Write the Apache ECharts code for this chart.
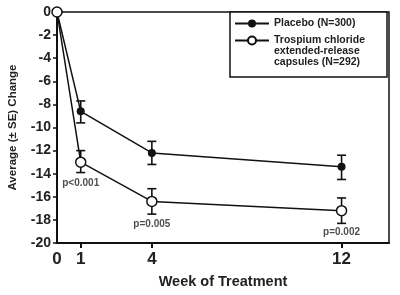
<!DOCTYPE html>
<html>
<head>
<meta charset="utf-8">
<script src="https://cdn.jsdelivr.net/npm/echarts@6/dist/echarts.min.js"></script>
<style>
  html, body { margin: 0; padding: 0; background: #fff; }
  #chart { width: 400px; height: 295px; }
</style>
</head>
<body>
<div id="chart"></div>
<script>
// data
var weeks = [0, 1, 4, 12]
var placebo = [0, -8.6, -12.2, -13.4]
var placeboLow = [null, -9.6, -13.2, -14.5]
var placeboHigh = [null, -7.7, -11.2, -12.4]
var trospium = [0, -13.0, -16.4, -17.2]
var trospiumLow = [null, -13.9, -17.5, -18.3]
var trospiumHigh = [null, -12.0, -15.3, -16.1]
var pWeeks = [1, 4, 12]
var pY = [-14.8, -18.4, -19.1]
var pText = ['p<0.001', 'p=0.005', 'p=0.002']
var yTicks = [0, -2, -4, -6, -8, -10, -12, -14, -16, -18, -20]

var FONT = '"Liberation Sans", Arial, sans-serif'
var PLACEBO = 'Placebo (N=300)'
var TROSPIUM = 'Trospium chloride\nextended-release\ncapsules (N=292)'

function pairs(ys) {
  return weeks.map(function (w, i) { return [w, ys[i]] })
}
function bars(lo, hi) {
  var out = []
  weeks.forEach(function (w, i) {
    if (lo[i] != null) out.push([w, lo[i], hi[i]])
  })
  return out
}
function errorBar(params, api) {
  var x = api.value(0)
  var lo = api.coord([x, api.value(1)])
  var hi = api.coord([x, api.value(2)])
  var half = 4.5
  var st = { stroke: '#111', lineWidth: 1.6 }
  return {
    type: 'group',
    children: [
      { type: 'line', shape: { x1: lo[0], y1: lo[1], x2: hi[0], y2: hi[1] }, style: st },
      { type: 'line', shape: { x1: lo[0] - half, y1: lo[1], x2: lo[0] + half, y2: lo[1] }, style: st },
      { type: 'line', shape: { x1: hi[0] - half, y1: hi[1], x2: hi[0] + half, y2: hi[1] }, style: st }
    ]
  }
}

var chart = echarts.init(document.getElementById('chart'))
chart.setOption({
  backgroundColor: '#fff',
  animation: false,
  grid: {
    left: 57,
    right: 11,
    top: 12,
    bottom: 52,
    outerBoundsMode: 'none',
    containLabel: false,
    show: true,
    borderColor: '#111',
    borderWidth: 1.5
  },
  legend: {
    left: 230,
    top: 12,
    orient: 'vertical',
    padding: [1, 22, 9, 4],
    itemGap: -16,
    itemWidth: 34,
    itemHeight: 10,
    borderColor: '#111',
    borderWidth: 1.5,
    backgroundColor: '#fff',
    textStyle: {
      fontFamily: FONT,
      fontWeight: 'bold',
      fontSize: 10.5,
      lineHeight: 11,
      color: '#222'
    },
    // two empty lines above so the first text line sits level with the icon
    formatter: function (name) {
      return name === TROSPIUM ? '\n\n' + name : name
    },
    data: [PLACEBO, TROSPIUM]
  },
  xAxis: {
    type: 'value',
    min: 0,
    max: 14,
    interval: 1,
    name: 'Week of Treatment',
    nameLocation: 'middle',
    nameGap: 31,
    nameTextStyle: {
      fontFamily: FONT,
      fontWeight: 'bold',
      fontSize: 14.5,
      color: '#222'
    },
    axisLine: { onZero: false, lineStyle: { color: '#111', width: 2 } },
    axisTick: { customValues: [1, 4, 12], length: 5, lineStyle: { color: '#111', width: 2 } },
    axisLabel: {
      customValues: weeks,
      margin: 8,
      fontFamily: FONT,
      fontWeight: 'bold',
      fontSize: 17,
      color: '#222'
    },
    splitLine: { show: false }
  },
  yAxis: {
    type: 'value',
    min: -20,
    max: 0,
    interval: 2,
    name: 'Average (\u00b1 SE) Change',
    nameLocation: 'middle',
    nameGap: 38,
    nameTextStyle: {
      fontFamily: FONT,
      fontWeight: 'bold',
      fontSize: 11.5,
      color: '#222'
    },
    axisLine: { onZero: false, lineStyle: { color: '#111', width: 2 } },
    axisTick: { customValues: yTicks, length: 4, lineStyle: { color: '#111', width: 1.5 } },
    axisLabel: {
      customValues: yTicks,
      margin: 6,
      fontFamily: FONT,
      fontWeight: 'bold',
      fontSize: 14,
      color: '#222'
    },
    splitLine: { show: false }
  },
  series: [
    {
      name: PLACEBO,
      type: 'line',
      data: pairs(placebo),
      symbol: 'circle',
      symbolSize: 8,
      lineStyle: { color: '#111', width: 1.5 },
      itemStyle: { color: '#111' },
      z: 3
    },
    {
      name: TROSPIUM,
      type: 'line',
      data: pairs(trospium),
      symbol: 'circle',
      symbolSize: 10,
      lineStyle: { color: '#111', width: 1.5 },
      itemStyle: { color: '#fff', borderColor: '#111', borderWidth: 1.5 },
      z: 4
    },
    {
      type: 'custom',
      renderItem: errorBar,
      data: bars(placeboLow, placeboHigh),
      encode: { x: 0, y: [1, 2] },
      z: 2
    },
    {
      type: 'custom',
      renderItem: errorBar,
      data: bars(trospiumLow, trospiumHigh),
      encode: { x: 0, y: [1, 2] },
      z: 2
    },
    {
      type: 'scatter',
      symbolSize: 0,
      silent: true,
      data: pWeeks.map(function (w, i) { return { value: [w, pY[i]], text: pText[i] } }),
      label: {
        show: true,
        position: 'inside',
        formatter: function (p) { return p.data.text },
        fontFamily: FONT,
        fontWeight: 'bold',
        fontSize: 10,
        color: '#222'
      }
    }
  ]
})
</script>
</body>
</html>
